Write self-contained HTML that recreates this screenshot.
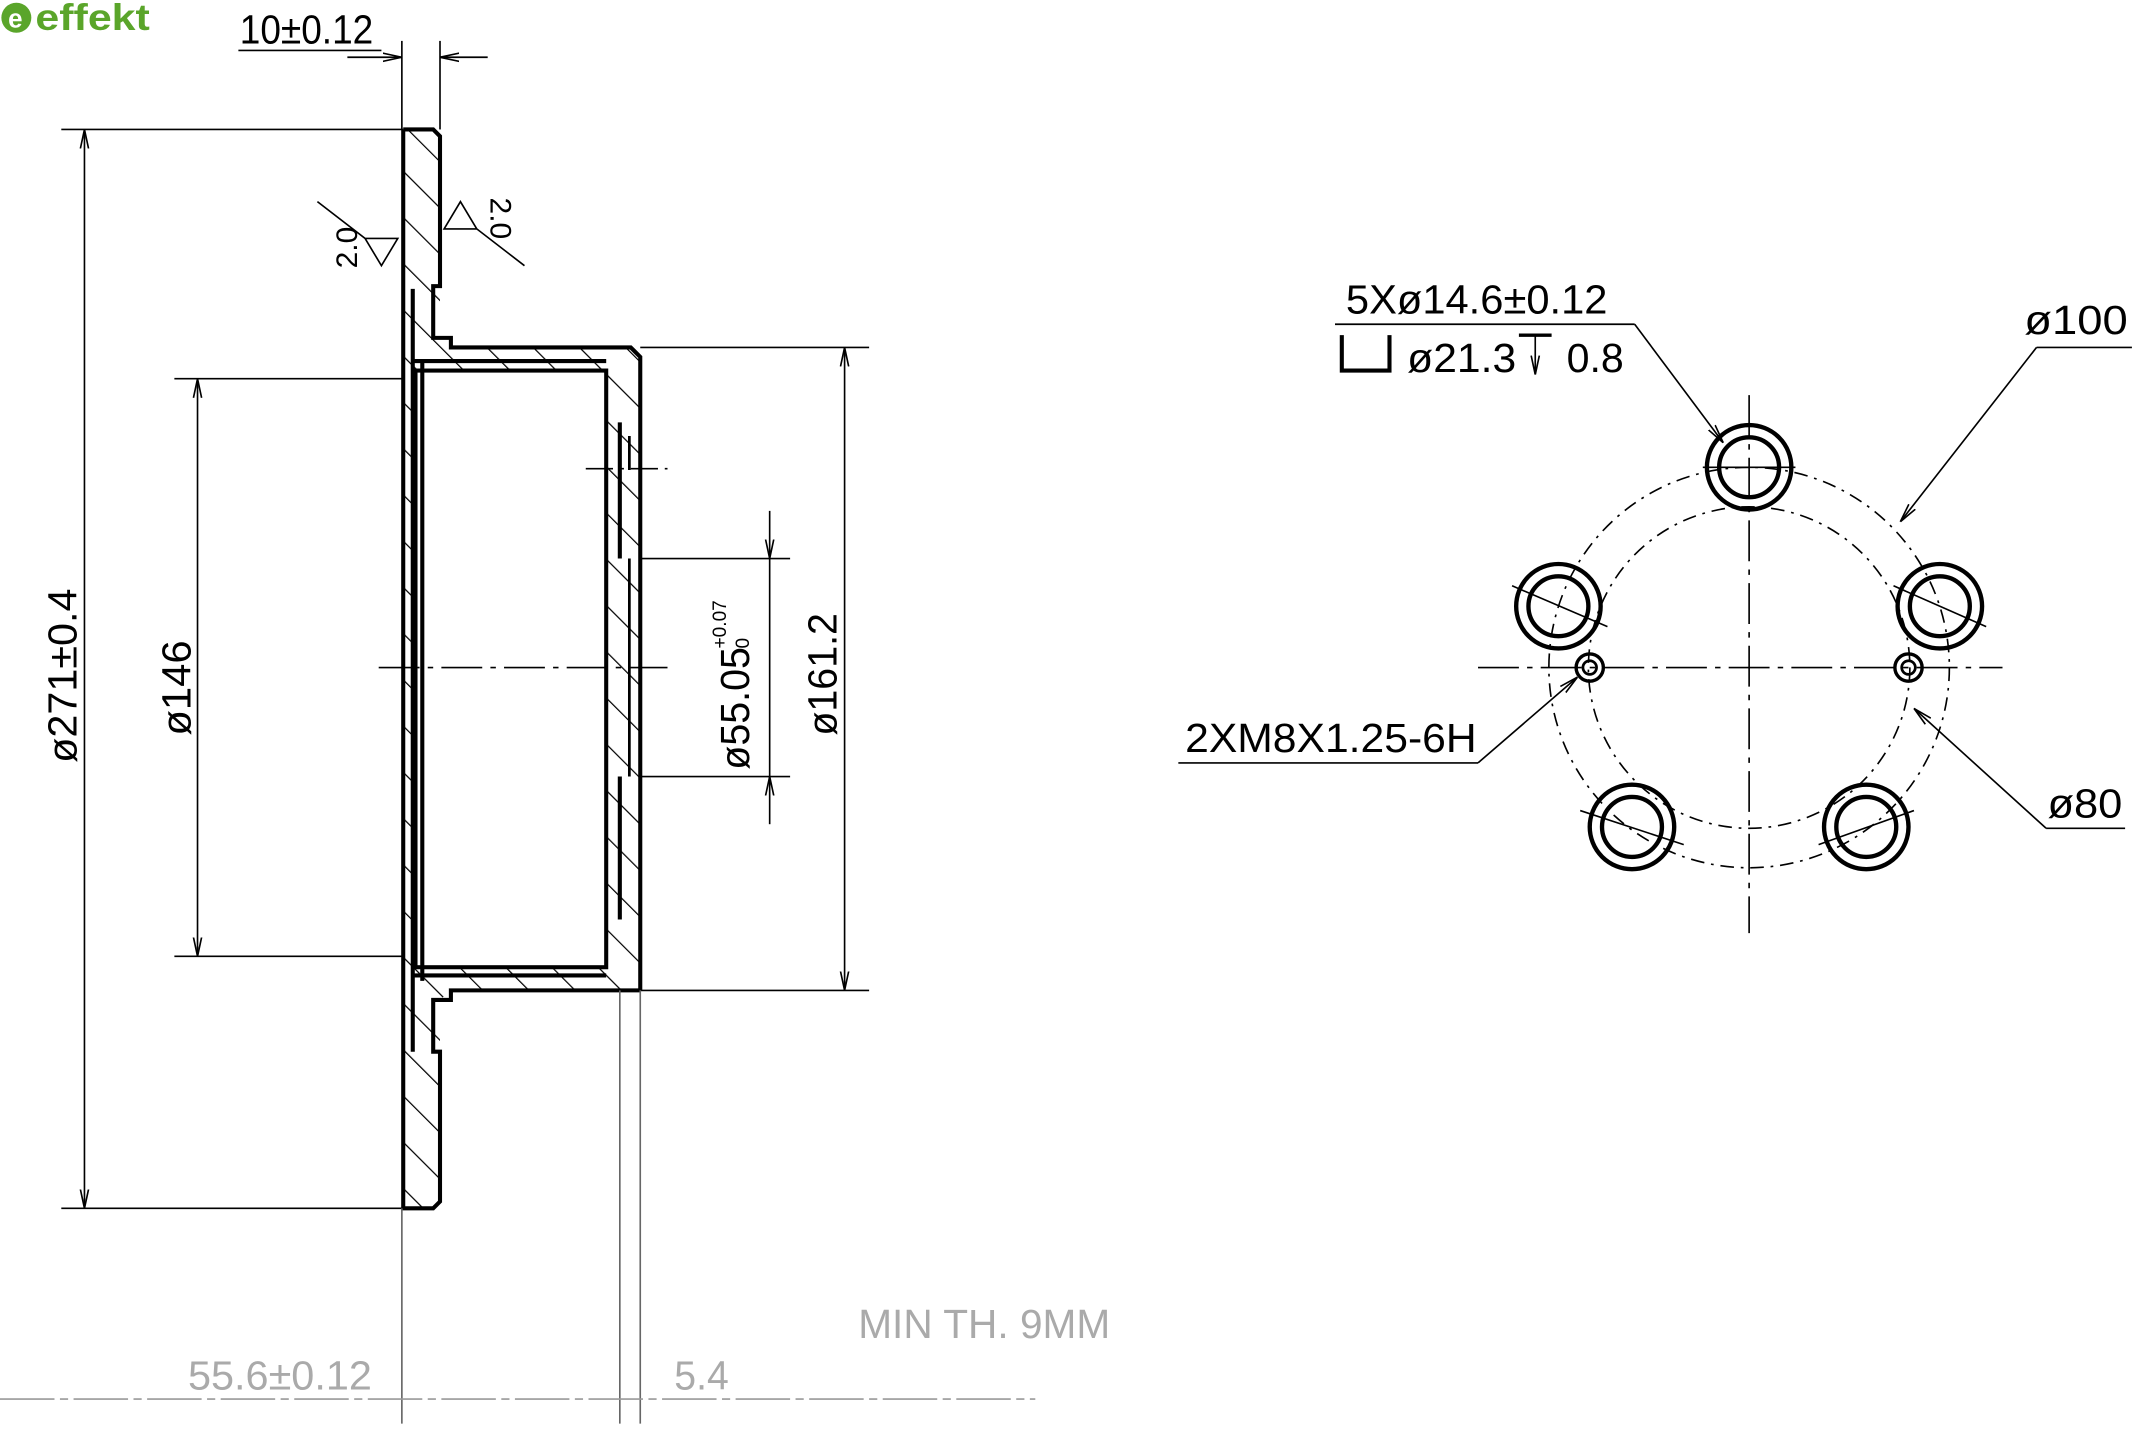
<!DOCTYPE html>
<html><head><meta charset="utf-8"><style>
html,body{margin:0;padding:0;background:#fff;}
svg{display:block}
text{font-family:"Liberation Sans",sans-serif;}
</style></head><body>
<svg width="2136" height="1448" viewBox="0 0 1568 1062.9" xmlns="http://www.w3.org/2000/svg">
<defs>
<pattern id="h" width="24" height="24" patternUnits="userSpaceOnUse" patternTransform="rotate(-45)">
<line x1="0" y1="0" x2="0" y2="24" stroke="#000" stroke-width="1.8"/>
</pattern>
<marker id="a" markerWidth="14" markerHeight="8" refX="14" refY="4" orient="auto" markerUnits="userSpaceOnUse"><path d="M0,1 L14,4 L0,7" fill="none" stroke="#000" stroke-width="1.2"/></marker>
<marker id="a2" markerWidth="14" markerHeight="8" refX="0" refY="4" orient="auto" markerUnits="userSpaceOnUse"><path d="M14,1 L0,4 L14,7" fill="none" stroke="#000" stroke-width="1.2"/></marker>
</defs>
<!-- logo -->
<circle cx="12" cy="13" r="11" fill="#5aa52a"/>
<text x="6" y="20" font-size="19" font-weight="bold" fill="#fff">e</text>
<text x="26" y="22" font-size="27" font-weight="bold" fill="#5aa52a" textLength="84" lengthAdjust="spacingAndGlyphs">effekt</text>

<g fill="none" stroke="#000" stroke-width="3">
<path d="M296,95 L318,95 L323,100 L323,248 L331,255 L463,255 L470,262 L470,727 L331,727 L323,734 L323,882 L318,887 L296,887 Z" fill="url(#h)" stroke="none"/>
<path d="M296,95 L318,95 L323,100 L323,210 L318,210 L318,248 L331,248 L331,255 L463,255 L470,262 L470,727"/>
<path d="M296,95 L296,887 L318,887 L323,882 L323,772 L318,772 L318,734 L331,734 L331,727 L470,727"/>
<rect x="305" y="272" width="140" height="438" fill="#fff" stroke="#000"/>
<path d="M303,212 L303,772" />
<path d="M310,265 L310,720"/>
<path d="M303,265 L445,265 M303,716 L445,716"/>
<path d="M455,310 L455,410 M455,570 L455,675"/>
<path d="M462,320 L462,345 M462,410 L462,570" stroke-width="2"/>
</g>
<g stroke="#000" stroke-width="1.2" fill="none">
<line x1="278" y1="490" x2="490" y2="490" stroke-dasharray="30,6,4,6"/>
<line x1="430" y1="344" x2="490" y2="344" stroke-dasharray="20,5,3,5"/>
<line x1="45" y1="95" x2="296" y2="95"/>
<line x1="45" y1="887" x2="296" y2="887"/>
<line x1="128" y1="278" x2="296" y2="278"/>
<line x1="128" y1="702" x2="296" y2="702"/>
<line x1="470" y1="255" x2="638" y2="255"/>
<line x1="470" y1="727" x2="638" y2="727"/>
<line x1="470" y1="410" x2="580" y2="410"/>
<line x1="470" y1="570" x2="580" y2="570"/>
<line x1="295" y1="30" x2="295" y2="95"/>
<line x1="323" y1="30" x2="323" y2="95"/>
<line x1="295" y1="887" x2="295" y2="1045" stroke="#666"/>
<line x1="455" y1="727" x2="455" y2="1045" stroke="#666"/>
<line x1="470" y1="727" x2="470" y2="1045" stroke="#666"/>
<line x1="62" y1="95" x2="62" y2="887" marker-start="url(#a2)" marker-end="url(#a)"/>
<line x1="145" y1="278" x2="145" y2="702" marker-start="url(#a2)" marker-end="url(#a)"/>
<line x1="620" y1="255" x2="620" y2="727" marker-start="url(#a2)" marker-end="url(#a)"/>
<line x1="565" y1="375" x2="565" y2="410" marker-end="url(#a)"/>
<line x1="565" y1="605" x2="565" y2="570" marker-end="url(#a)"/>
<line x1="565" y1="410" x2="565" y2="570"/>
<line x1="255" y1="42" x2="295" y2="42" marker-end="url(#a)"/>
<line x1="358" y1="42" x2="323" y2="42" marker-end="url(#a)"/>
<line x1="175" y1="37" x2="280" y2="37"/>
<line x1="0" y1="1027" x2="760" y2="1027" stroke="#999" stroke-dasharray="40,4,6,4"/>
<path d="M233,148 L268,175 L292,175 L280,195 L268,175" />
<path d="M385,195 L350,168 L326,168 L338,148 L350,168"/>
</g>
<g font-size="30" fill="#000">
<text x="176" y="32" textLength="98" lengthAdjust="spacingAndGlyphs">10±0.12</text>
<text transform="translate(56,560) rotate(-90)" textLength="128" lengthAdjust="spacingAndGlyphs">ø271±0.4</text>
<text transform="translate(140,540) rotate(-90)" textLength="70" lengthAdjust="spacingAndGlyphs">ø146</text>
<text transform="translate(614,540) rotate(-90)" textLength="90" lengthAdjust="spacingAndGlyphs">ø161.2</text>
<text transform="translate(550,565) rotate(-90)" textLength="90" lengthAdjust="spacingAndGlyphs">ø55.05</text>
<text transform="translate(533,476) rotate(-90)" font-size="14">+0.07</text>
<text transform="translate(550,476) rotate(-90)" font-size="14">0</text>
<text transform="translate(262,197) rotate(-90)" font-size="22">2.0</text>
<text transform="translate(360,145) rotate(90)" font-size="22">2.0</text>
</g>
<g font-size="30" fill="#aaa">
<text x="138" y="1020" textLength="135" lengthAdjust="spacingAndGlyphs">55.6±0.12</text>
<text x="495" y="1020" textLength="40" lengthAdjust="spacingAndGlyphs">5.4</text>
<text x="630" y="982" textLength="185" lengthAdjust="spacingAndGlyphs">MIN TH. 9MM</text>
</g>

<g fill="none" stroke="#000">
<line x1="1284" y1="290" x2="1284" y2="685" stroke-width="1.2" stroke-dasharray="30,6,4,6"/>
<line x1="1085" y1="490" x2="1470" y2="490" stroke-width="1.2" stroke-dasharray="30,6,4,6"/>
<circle cx="1284" cy="490" r="147" stroke-width="1.2" stroke-dasharray="10,5,2,5"/>
<circle cx="1284" cy="490" r="118" stroke-width="1.2" stroke-dasharray="10,5,2,5"/>
<g stroke-width="3.2">
<circle cx="1284" cy="343" r="31"/><circle cx="1284" cy="343" r="22"/>
<circle cx="1144" cy="445" r="31"/><circle cx="1144" cy="445" r="22"/>
<circle cx="1424" cy="445" r="31"/><circle cx="1424" cy="445" r="22"/>
<circle cx="1198" cy="607" r="31"/><circle cx="1198" cy="607" r="22"/>
<circle cx="1370" cy="607" r="31"/><circle cx="1370" cy="607" r="22"/>
<circle cx="1167" cy="490" r="10" stroke-width="2.5"/><circle cx="1167" cy="490" r="5" stroke-width="2"/>
<circle cx="1401" cy="490" r="10" stroke-width="2.5"/><circle cx="1401" cy="490" r="5" stroke-width="2"/>
</g>
<g stroke-width="1.2">
<line x1="1110" y1="430" x2="1180" y2="460"/><line x1="1390" y1="430" x2="1458" y2="460"/>
<line x1="1160" y1="595" x2="1236" y2="620"/><line x1="1335" y1="620" x2="1405" y2="595"/>
<line x1="1250" y1="343" x2="1318" y2="343"/>
<line x1="980" y1="238" x2="1200" y2="238"/>
<line x1="1200" y1="238" x2="1265" y2="325" marker-end="url(#a)"/>
<line x1="1565" y1="255" x2="1495" y2="255"/>
<line x1="1495" y1="255" x2="1395" y2="383" marker-end="url(#a)"/>
<line x1="865" y1="560" x2="1085" y2="560"/>
<line x1="1085" y1="560" x2="1158" y2="497" marker-end="url(#a)"/>
<line x1="1560" y1="608" x2="1502" y2="608"/>
<line x1="1502" y1="608" x2="1405" y2="520" marker-end="url(#a)"/>
<line x1="1127" y1="246" x2="1127" y2="275" marker-end="url(#a)"/>
<line x1="1115" y1="246" x2="1139" y2="246" stroke-width="2.5"/>
</g>
<path d="M985,246 L985,272 L1020,272 L1020,246" stroke-width="3"/>
</g>
<g font-size="30" fill="#000">
<text x="988" y="230" textLength="192" lengthAdjust="spacingAndGlyphs">5Xø14.6±0.12</text>
<text x="1033" y="273" textLength="80" lengthAdjust="spacingAndGlyphs">ø21.3</text>
<text x="1150" y="273" textLength="42" lengthAdjust="spacingAndGlyphs">0.8</text>
<text x="1486" y="245" textLength="76" lengthAdjust="spacingAndGlyphs">ø100</text>
<text x="870" y="552" textLength="214" lengthAdjust="spacingAndGlyphs">2XM8X1.25-6H</text>
<text x="1503" y="600" textLength="55" lengthAdjust="spacingAndGlyphs">ø80</text>
</g>
</svg>
</body></html>
